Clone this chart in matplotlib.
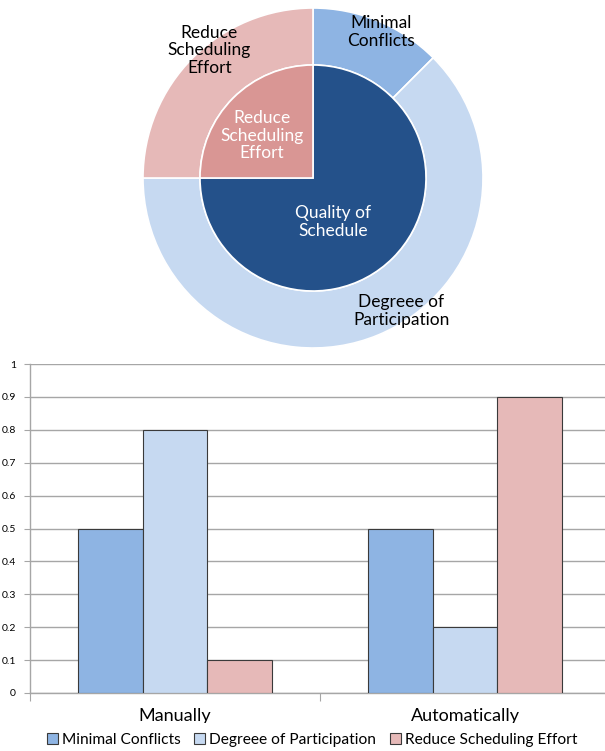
import matplotlib
matplotlib.use("Agg")
import matplotlib.pyplot as plt
import numpy as np
from matplotlib.patches import Rectangle

plt.rcParams["font.family"] = ["Lato", "DejaVu Sans"]

# ring shares (fractions of the whole)
inner_labels = ["Quality of\nSchedule", "Reduce\nScheduling\nEffort"]
inner_shares = [0.75, 0.25]
outer_labels = ["Minimal\nConflicts", "Degreee of\nParticipation", "Reduce\nScheduling\nEffort"]
outer_shares = [0.125, 0.625, 0.25]

# bar chart
methods = ["Manually", "Automatically"]
series = ["Minimal Conflicts", "Degreee of Participation", "Reduce Scheduling Effort"]
minimal_conflicts = [0.5, 0.5]
degree_participation = [0.8, 0.2]
reduce_effort = [0.1, 0.9]

c_dark = "#24518A"
c_mid = "#8EB4E3"
c_light = "#C6D9F1"
c_pink = "#E6B9B8"
c_pink_dk = "#D99694"

W, H = 605, 751
fig = plt.figure(figsize=(W / 100, H / 100), dpi=100)

# ---- nested donut ----
cx, cy, r = 313, 178, 170
pax = fig.add_axes([(cx - r) / W, 1 - (cy + r) / H, 2 * r / W, 2 * r / H])

r_in = 113 / 170
pax.pie(outer_shares, radius=1, startangle=90, counterclock=False,
        colors=[c_mid, c_light, c_pink],
        wedgeprops=dict(width=1 - r_in, edgecolor="white", linewidth=1.2))
pax.pie(inner_shares, radius=r_in, startangle=90, counterclock=False,
        colors=[c_dark, c_pink_dk],
        wedgeprops=dict(edgecolor="white", linewidth=1.2))
pax.set_xlim(-1, 1)
pax.set_ylim(-1, 1)
pax.set_aspect("equal")
pax.axis("off")

outer_pos = [(0.40, 0.86), (0.52, -0.78), (-0.61, 0.75)]
for lab, (x, y) in zip(outer_labels, outer_pos):
    pax.text(x, y, lab, ha="center", va="center", fontsize=12.5, color="black",
             linespacing=1.15)
inner_pos = [(0.12, -0.26), (-0.30, 0.25)]
for lab, (x, y) in zip(inner_labels, inner_pos):
    pax.text(x, y, lab, ha="center", va="center", fontsize=12.5, color="white",
             linespacing=1.15)

# ---- grouped bars ----
ax = fig.add_axes([30 / W, 1 - 693 / H, 580 / W, 329 / H])
x = np.arange(len(methods))
bw = 0.2222
edge = "#3A3A3A"
ax.bar(x - bw, minimal_conflicts, bw, color=c_mid, edgecolor=edge, linewidth=0.8,
       label=series[0], zorder=3)
ax.bar(x, degree_participation, bw, color=c_light, edgecolor=edge, linewidth=0.8,
       label=series[1], zorder=3)
ax.bar(x + bw, reduce_effort, bw, color=c_pink, edgecolor=edge, linewidth=0.8,
       label=series[2], zorder=3)

ax.set_xlim(-0.5, 1.5)
ax.set_ylim(0, 1)
yt = np.round(np.arange(0, 1.01, 0.1), 1)
ax.set_yticks(yt)
ax.set_yticklabels([f"{v:g}" for v in yt], fontsize=7.5)
ax.yaxis.grid(True, color="#A6A6A6", linewidth=1, zorder=0)
ax.set_axisbelow(True)
for s in ("top", "right"):
    ax.spines[s].set_visible(False)
for s in ("left", "bottom"):
    ax.spines[s].set_color("#A6A6A6")
    ax.spines[s].set_linewidth(1)
ax.tick_params(axis="y", length=4, color="#A6A6A6", pad=6)
ax.set_xticks([-0.5, 0.5, 1.5])
ax.set_xticklabels([])
ax.tick_params(axis="x", length=6, color="#A6A6A6")

for xi, name in zip(x, methods):
    ax.text(xi, -0.086, name, transform=ax.get_xaxis_transform(), ha="center",
            va="baseline", fontsize=13)

# white band under the legend trims the category names
fig.patches.append(Rectangle((0, 0), 1, 28 / H, transform=fig.transFigure,
                             facecolor="white", edgecolor="none", zorder=1))

fig.legend(loc="center", bbox_to_anchor=(312 / W, 1 - 740 / H), ncol=3,
           frameon=False, fontsize=11.2, handlelength=0.7, handleheight=0.7,
           handletextpad=0.25, columnspacing=0.9, borderaxespad=0)

fig.savefig("out.png", dpi=100)
